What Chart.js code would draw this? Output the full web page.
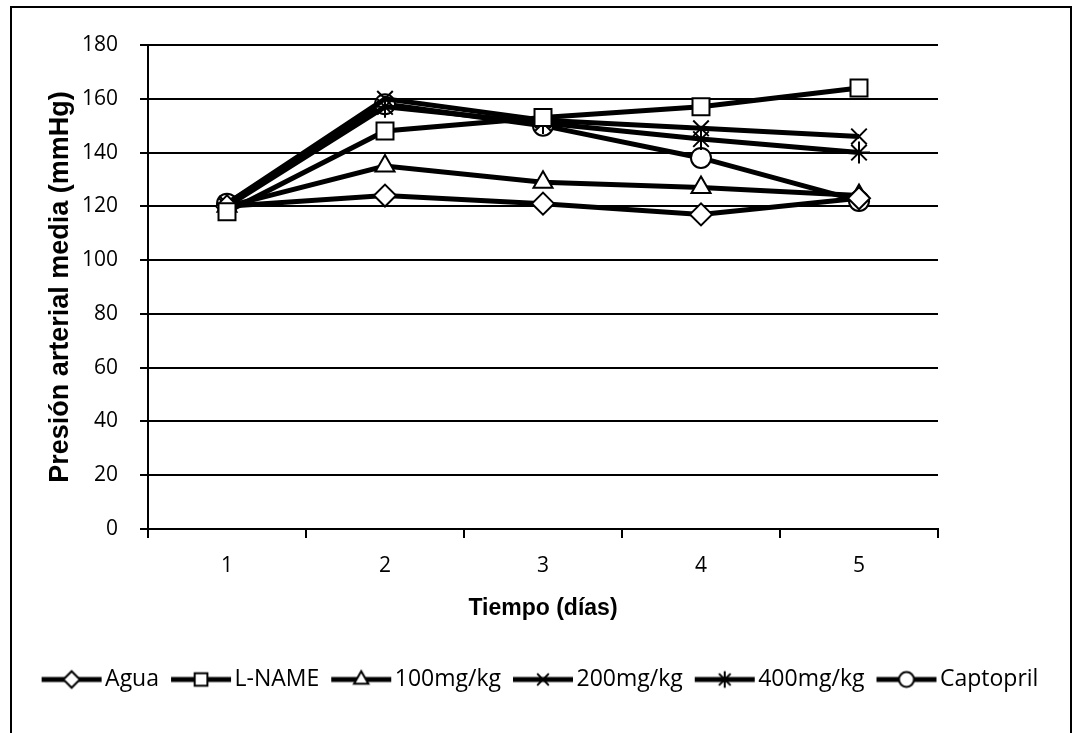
<!DOCTYPE html>
<html>
<head>
<meta charset="utf-8">
<script src="https://cdn.jsdelivr.net/npm/chart.js@4/dist/chart.umd.min.js"></script>
<style>
  html, body { margin: 0; padding: 0; background: #fff; }
  #wrap { width: 1075px; height: 733px; }
</style>
</head>
<body>
<div id="wrap"><canvas id="graph"></canvas></div>
<script>
var dias = ['1', '2', '3', '4', '5'];
var agua = [120, 124, 121, 117, 123];
var lname = [118, 148, 153, 157, 164];
var mg100 = [120, 135, 129, 127, 124];
var mg200 = [121, 160, 152, 149, 146];
var mg400 = [120, 157, 151, 145, 140];
var captopril = [121, 158, 150, 138, 122];

var nombres = ['Agua', 'L-NAME', '100mg/kg', '200mg/kg', '400mg/kg', 'Captopril'];
var estilos = ['rectRot', 'rect', 'triangle', 'crossRot', 'star', 'circle'];
var radios = [11, 12, 11, 11, 11, 10];
var series = [agua, lname, mg100, mg200, mg400, captopril];

// legend icon: thick line with the marker on top
function legendIcon(k) {
    var c = document.createElement('canvas');
    c.width = 64; c.height = 24;
    var g = c.getContext('2d');
    g.strokeStyle = '#000';
    g.lineWidth = 5;
    g.beginPath(); g.moveTo(2, 12); g.lineTo(62, 12); g.stroke();
    g.fillStyle = '#fff';
    g.lineWidth = 2;
    if (Chart.helpers && Chart.helpers.drawPoint) {
        Chart.helpers.drawPoint(g, { pointStyle: estilos[k], radius: radios[k] * 0.75, rotation: 0, borderWidth: 2 }, 32, 12);
    }
    return c;
}

var datasets = [];
for (var i = 0; i < series.length; i++) {
    datasets.push({
        label: nombres[i],
        data: series[i],
        order: i == 1 ? -1 : 0,   // L-NAME sits on top
        borderColor: '#000',
        borderWidth: 5,
        backgroundColor: '#fff',
        pointStyle: estilos[i],
        pointRadius: radios[i],
        pointBorderWidth: 2,
        pointBorderColor: '#000',
        pointBackgroundColor: '#fff',
        tension: 0
    });
}

var frame = {
    id: 'frame',
    afterLayout: function(chart) {
        // nudge the legend row to where it sits in the original
        var lg = chart.legend;
        var dx = 544 - (lg.left + lg.right) / 2;
        lg.left += dx; lg.right += dx;
        lg.top += 21; lg.bottom += 21;
    },
    afterDraw: function(chart) {
        var c = chart.ctx;
        c.save();
        c.strokeStyle = '#000';
        c.lineWidth = 2;
        c.strokeRect(11, 7, 1060, 740);
        c.restore();
    }
};

var ctx = document.getElementById('graph');
var chart = new Chart(ctx, {
    type: 'line',
    data: { labels: dias, datasets: datasets },
    plugins: [frame],
    options: {
        responsive: true,
        maintainAspectRatio: false,
        animation: false,
        layout: { padding: { left: 10, right: 10, top: 45, bottom: 53 } },
        plugins: {
            tooltip: { enabled: false },
            legend: {
                position: 'bottom',
                labels: {
                    usePointStyle: true,
                    pointStyleWidth: 44,
                    boxHeight: 23,
                    padding: 20,
                    color: '#000',
                    font: { family: "'Open Sans', sans-serif", size: 23 },
                    sort: function(a, b) { return a.datasetIndex - b.datasetIndex; },
                    generateLabels: function(ch) {
                        var items = Chart.defaults.plugins.legend.labels.generateLabels(ch);
                        items.forEach(function(it) { it.pointStyle = legendIcon(it.datasetIndex); });
                        return items;
                    }
                }
            }
        },
        scales: {
            x: {
                offset: true,
                grid: { display: true, drawOnChartArea: false, offset: true, color: '#000', lineWidth: 2, tickLength: 9, tickColor: '#000' },
                border: { color: '#000', width: 2 },
                ticks: { color: '#000', font: { family: "'Open Sans', sans-serif", size: 21 }, padding: 15 },
                title: { display: true, text: 'Tiempo (días)', color: '#000', font: { family: "'Liberation Sans', Arial, sans-serif", size: 23, weight: 'bold' }, padding: { top: 16, bottom: 5 } },
                afterFit: function(s) { s.height = 98; }
            },
            y: {
                min: 0, max: 180,
                ticks: { stepSize: 20, color: '#000', font: { family: "'Open Sans', sans-serif", size: 21 }, padding: 22 },
                grid: { color: '#000', lineWidth: 2, tickLength: 8, tickColor: '#000' },
                border: { color: '#000', width: 2 },
                title: { display: true, text: 'Presión arterial media (mmHg)', color: '#000', font: { family: "'Liberation Sans', Arial, sans-serif", size: 27, weight: 'bold' }, padding: 34 },
                afterFit: function(s) { s.width = 138; }
            },
            // empty right axis, only keeps the plot clear of the right margin
            derecha: {
                position: 'right',
                min: 0, max: 180,
                ticks: { display: false },
                grid: { display: false },
                border: { display: false },
                afterFit: function(s) { s.width = 127; }
            }
        }
    }
});
</script>
</body>
</html>
